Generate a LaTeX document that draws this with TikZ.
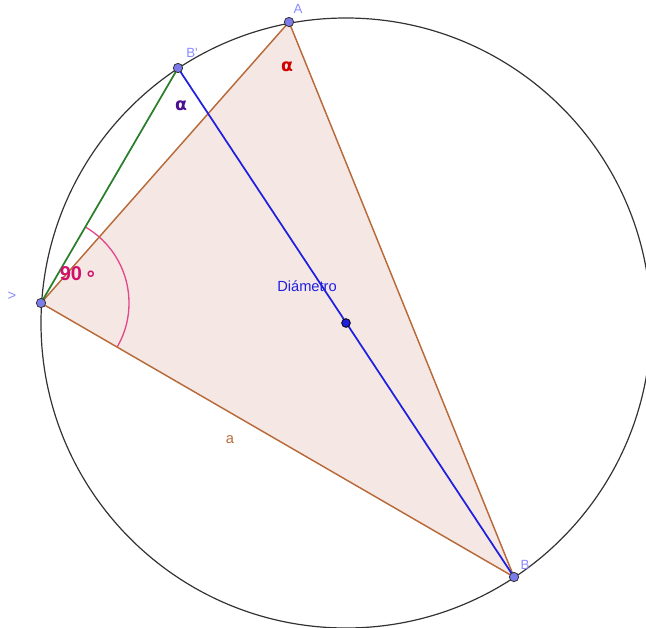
\documentclass[tikz,border=0pt]{standalone}
\usepackage{fontspec}
\setmainfont{DejaVu Sans}
\newfontfamily\lab{DejaVu Sans}
\newfontfamily\labb{Liberation Sans}
\definecolor{ptfill}{HTML}{7B7BEA}
\definecolor{labblue}{HTML}{8C8CFF}
\definecolor{tribrown}{HTML}{B86A3A}
\definecolor{trifill}{HTML}{F5E8E4}
\definecolor{diamblue}{HTML}{1F1FE0}
\definecolor{greenl}{HTML}{2A7F2A}
\definecolor{alphared}{HTML}{D00000}
\definecolor{alphapurple}{HTML}{4B0F8F}
\definecolor{magentaa}{HTML}{D0106A}
\definecolor{arcpink}{HTML}{E4488A}
\tikzset{
  pt/.style={circle,draw=black!80,fill=ptfill,line width=0.6pt,inner sep=0pt,minimum size=7pt},
  ctr/.style={circle,draw=black,fill=diamblue,line width=0.6pt,inner sep=0pt,minimum size=6.5pt},
  ptlab/.style={text=labblue,font=\labb\fontsize{10}{11}\selectfont,inner sep=0pt},
  alab/.style={font=\lab\bfseries\fontsize{13}{14}\selectfont,inner sep=0pt},
}
\begin{document}
\begin{tikzpicture}[x=0.75pt,y=-0.75pt]
\useasboundingbox (0,0) rectangle (646,628);
\coordinate (O) at (346,323);
\coordinate (A) at (289,22);
\coordinate (Bp) at (178,68);
\coordinate (C) at (41,303);
\coordinate (B) at (514,577);
% triangle
\fill[trifill] (C) -- (A) -- (B) -- cycle;
% circle
\draw[black!80,line width=0.9pt] (O) circle[radius=305*0.75pt];
% arc at C
\draw[arcpink,line width=1pt] ([shift={(59.75:66pt)}]C) arc[start angle=59.75,end angle=-30.08,radius=66pt];
% triangle edges
\draw[tribrown,line width=1.1pt] (C) -- (A) -- (B) -- (C);
% green and blue
\draw[greenl,line width=1.3pt] (C) -- (Bp);
\draw[diamblue,line width=1.3pt] (Bp) -- (B);
% points
\node[pt] (nA) at (A) {};
\node[pt] (nBp) at (Bp) {};
\node[pt] (nC) at (C) {};
\node[pt] (nB) at (B) {};
\node[ctr] (nO) at (O) {};
% labels
\node[ptlab] (lA) at (298,9) {A};
\node[ptlab] (lBp) at (192,53) {B'};
\node[ptlab] (lB) at (525,565) {B};
\node[ptlab,font=\labb\fontsize{11}{12}\selectfont] (lC) at (12,296) {\textgreater};
\node[alab,text=alphared] (al1) at (287,67) {α};
\node[alab,text=alphapurple] (al2) at (181,106) {α};
\node[font=\labb\fontsize{11}{12}\selectfont,text=diamblue,inner sep=0pt] (dl) at (307,286) {Diámetro};
\node[font=\labb\fontsize{11}{12}\selectfont,text=tribrown,inner sep=0pt] (la) at (230,440) {a};
\node[font=\labb\bfseries\fontsize{15}{17}\selectfont,text=magentaa,inner sep=0pt] (n90) at (71,274) {90};
\node[font=\lab\bfseries\fontsize{15}{17}\selectfont,text=magentaa,inner sep=0pt] (deg) at (91,276) {∘};
\end{tikzpicture}
\end{document}
